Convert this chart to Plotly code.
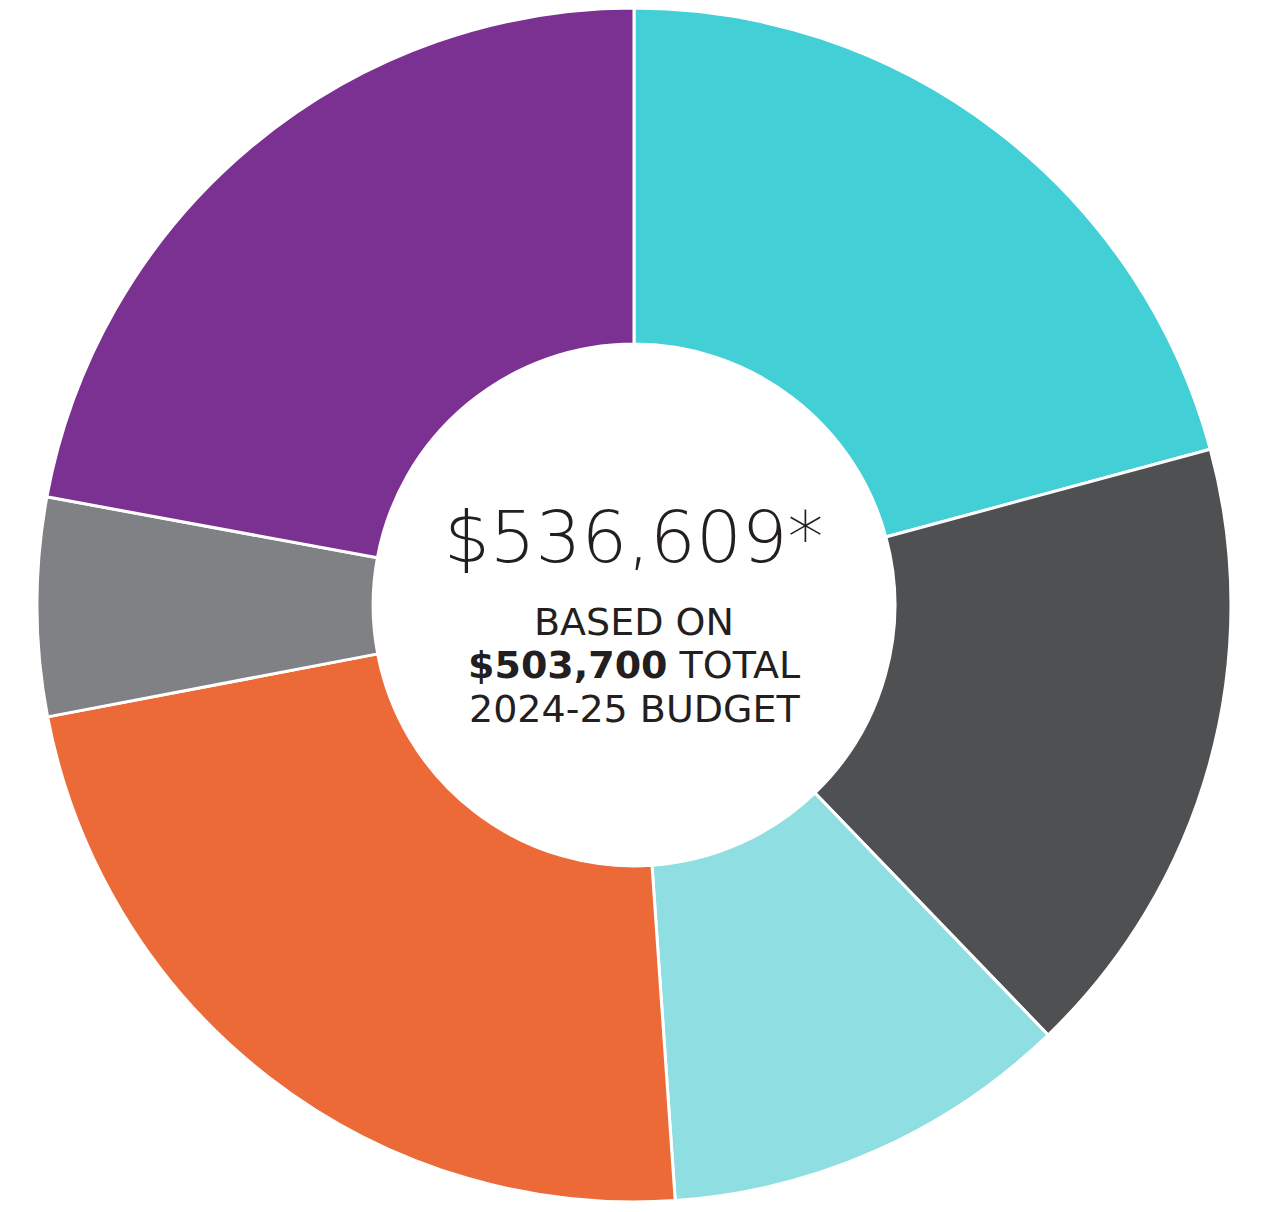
import plotly.graph_objects as go

# slices in clockwise order from 12 o'clock, read as share of the ring (%)
segments = ["Segment A", "Segment B", "Segment C", "Segment D", "Segment E", "Segment F"]
shares = [20.8, 17.0, 11.1, 23.1, 5.9, 22.1]
colors = ["#42CFD6", "#4F5052", "#8FDFE2", "#EC6A37", "#808184", "#7B3191"]

total_text = "$536,609*"
sub_lines = ["BASED ON", "<b>$503,700</b> TOTAL", "2024-25 BUDGET"]

W, H = 1270, 1212
# page body adds an 8px offset, so positions are shifted back by 8
off = 8
cx, cy, r = 634 - off, 605 - off, 597

fig = go.Figure()
fig.add_trace(go.Pie(
    labels=segments,
    values=shares,
    sort=False,
    direction="clockwise",
    rotation=0,
    hole=0.437,
    marker=dict(colors=colors, line=dict(color="white", width=3)),
    textinfo="none",
    hoverinfo="label+percent",
    showlegend=False,
    domain=dict(x=[(cx - r) / W, (cx + r) / W],
                y=[(H - cy - r) / H, (H - cy + r) / H]),
))

fig.add_annotation(
    x=cx / W, y=(H - (537 - off)) / H, xref="paper", yref="paper",
    text=total_text, showarrow=False,
    font=dict(family="DejaVu Sans", size=72, color="#231F20", weight=200),
)
# sub lines placed one by one for tighter line spacing
line_y = [622, 665, 709]
for txt, yy in zip(sub_lines, line_y):
    fig.add_annotation(
        x=cx / W, y=(H - (yy - off)) / H, xref="paper", yref="paper",
        text=txt, showarrow=False,
        font=dict(family="DejaVu Sans", size=38, color="#231F20"),
    )

fig.update_layout(
    width=W, height=H,
    margin=dict(l=0, r=0, t=0, b=0),
    paper_bgcolor="white",
    plot_bgcolor="white",
)

fig.write_html("out.html")
